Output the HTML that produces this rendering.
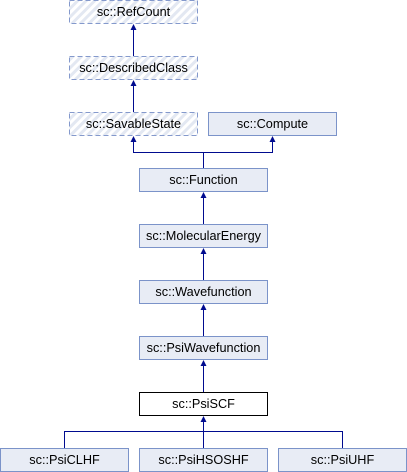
<!DOCTYPE html>
<html><head><meta charset="utf-8"><style>
html,body{margin:0;padding:0;background:#fff;width:407px;height:472px;overflow:hidden}
svg{display:block}
text{font-family:"Liberation Sans",sans-serif;font-size:12.7px;fill:#000;text-anchor:middle}
</style></head><body>
<svg width="407" height="472" viewBox="0 0 407 472" xmlns="http://www.w3.org/2000/svg">
<defs>
<pattern id="h" width="6" height="6" patternUnits="userSpaceOnUse" patternTransform="rotate(45)">
<rect width="6" height="6" fill="#fff"/><rect width="3" height="6" fill="#e3e8f2"/>
</pattern>
</defs>
<g stroke="#8499cc" stroke-width="1" stroke-dasharray="5,3" fill="url(#h)">
<rect x="69.5" y="0.5" width="128" height="23"/>
<rect x="69.5" y="56.5" width="128" height="23"/>
<rect x="69.5" y="112.5" width="128" height="23"/>
</g>
<g stroke="#7b93c9" stroke-width="1" fill="#e8ecf5">
<rect x="208.5" y="112.5" width="128" height="23"/>
<rect x="139.5" y="168.5" width="128" height="23"/>
<rect x="139.5" y="224.5" width="128" height="23"/>
<rect x="139.5" y="280.5" width="128" height="23"/>
<rect x="139.5" y="336.5" width="128" height="23"/>
<rect x="0.5" y="448.5" width="128" height="23"/>
<rect x="139.5" y="448.5" width="128" height="23"/>
<rect x="278.5" y="448.5" width="128" height="23"/>
</g>
<rect x="139.5" y="392.5" width="128" height="23" fill="#fff" stroke="#000"/>
<g stroke="#000b8f" stroke-width="1" fill="none">
<path d="M133.5 29V56M133.5 85V112M133.5 141V152.5H272.5V141M203.5 152V168M203.5 197V224M203.5 253V280M203.5 309V336M203.5 365V392M203.5 421V448M64.5 448V431.5H342.5V448"/>
</g>
<g fill="#000b8f">
<path d="M133.5 24l-3 6h6z M133.5 80l-3 6h6z M133.5 136l-3 6h6z M272.5 136l-3 6h6z M203.5 192l-3 6h6z M203.5 248l-3 6h6z M203.5 304l-3 6h6z M203.5 360l-3 6h6z M203.5 416l-3 6h6z"/>
</g>
<text x="133.5" y="16">sc::RefCount</text>
<text x="133.5" y="72">sc::DescribedClass</text>
<text x="133.5" y="128">sc::SavableState</text>
<text x="272.5" y="128">sc::Compute</text>
<text x="203.5" y="184">sc::Function</text>
<text x="203.5" y="240">sc::MolecularEnergy</text>
<text x="203.5" y="296">sc::Wavefunction</text>
<text x="203.5" y="352">sc::PsiWavefunction</text>
<text x="203.5" y="408">sc::PsiSCF</text>
<text x="64.5" y="464">sc::PsiCLHF</text>
<text x="203.5" y="464">sc::PsiHSOSHF</text>
<text x="342.5" y="464">sc::PsiUHF</text>
</svg>
</body></html>
